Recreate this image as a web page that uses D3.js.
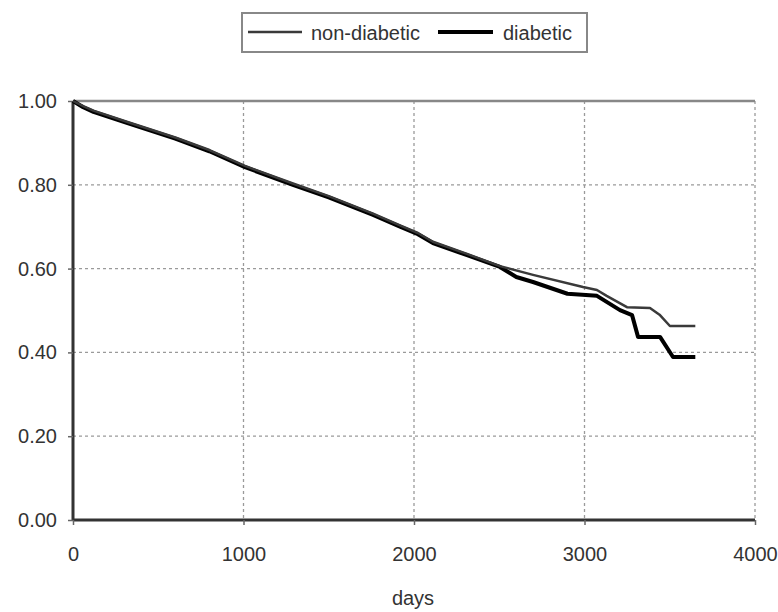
<!DOCTYPE html>
<html>
<head>
<meta charset="utf-8">
<script src="https://cdn.jsdelivr.net/npm/d3@7"></script>
<style>
  html, body { margin: 0; padding: 0; background: #fff; }
  svg { display: block; font-family: "Liberation Sans", Arial, sans-serif; }
</style>
</head>
<body>
<svg id="chart" width="778" height="612"></svg>
<script>
// ---- data ----
const nonDiabeticDays   = [0, 60, 120, 320, 600, 800, 1009, 1290, 1500, 1760, 1918, 2023, 2111, 2311, 2504, 2698, 2991, 3073, 3130, 3249, 3384, 3440, 3501, 3650];
const nonDiabeticValues = [1.0, 0.988, 0.977, 0.950, 0.913, 0.883, 0.845, 0.803, 0.773, 0.731, 0.703, 0.685, 0.664, 0.635, 0.606, 0.585, 0.556, 0.549, 0.535, 0.508, 0.506, 0.49, 0.463, 0.463];
const diabeticDays   = [0, 60, 120, 320, 600, 800, 1009, 1290, 1500, 1760, 1918, 2023, 2111, 2311, 2504, 2600, 2698, 2900, 3073, 3208, 3279, 3314, 3443, 3519, 3650];
const diabeticValues = [1.0, 0.985, 0.974, 0.947, 0.91, 0.88, 0.842, 0.80, 0.77, 0.728, 0.70, 0.682, 0.661, 0.632, 0.604, 0.58, 0.568, 0.54, 0.535, 0.501, 0.489, 0.437, 0.437, 0.389, 0.389];
const xTicks = [0, 1000, 2000, 3000, 4000];
const yTicks = [0, 0.2, 0.4, 0.6, 0.8, 1.0];
const seriesNames = ["non-diabetic", "diabetic"];
const xTitle = "days";

const svg = d3.select("#chart");
const mLeft = 73, mRight = 755, mTop = 101, mBottom = 520;
const FS = 20;
const x = d3.scaleLinear().domain([0, 4000]).range([mLeft, mRight]);
const y = d3.scaleLinear().domain([0, 1]).range([mBottom, mTop]);

// gridlines
const grid = svg.append("g");
grid.selectAll("line.h").data(yTicks.filter(v => v > 0 && v < 1)).join("line")
  .attr("x1", mLeft).attr("x2", mRight).attr("y1", d => y(d)).attr("y2", d => y(d))
  .attr("stroke", "#9a9a9a").attr("stroke-width", 1.3).attr("stroke-dasharray", "3,3");
grid.selectAll("line.v").data(xTicks.filter(v => v > 0)).join("line")
  .attr("y1", mTop).attr("y2", mBottom).attr("x1", d => x(d)).attr("x2", d => x(d))
  .attr("stroke", "#9a9a9a").attr("stroke-width", 1.3).attr("stroke-dasharray", "3,3");

// top border
svg.append("line").attr("x1", mLeft).attr("x2", mRight).attr("y1", mTop).attr("y2", mTop)
  .attr("stroke", "#888").attr("stroke-width", 2.5);

// axes
const yAxis = d3.axisLeft(y).tickValues(yTicks).tickFormat(d3.format(".2f")).tickSize(5).tickPadding(11);
const xAxis = d3.axisBottom(x).tickValues(xTicks).tickFormat(d3.format("d")).tickSize(5).tickPadding(22);

const gy = svg.append("g").attr("transform", `translate(${mLeft},0)`).call(yAxis);
const gx = svg.append("g").attr("transform", `translate(0,${mBottom})`).call(xAxis);
[gx, gy].forEach(g => {
  g.select(".domain").attr("stroke", "#333").attr("stroke-width", 3);
  g.selectAll(".tick line").attr("stroke", "#666").attr("stroke-width", 1.5);
  g.selectAll(".tick text").attr("font-size", FS).attr("fill", "#333")
    .attr("font-family", "'Liberation Sans', Arial, sans-serif");
});
gx.select(".domain").attr("d", `M${mLeft},0H${mRight}`);
gy.select(".domain").attr("d", `M0,${mBottom}V${mTop}`);

svg.append("text").attr("x", (mLeft + mRight) / 2 - 1).attr("y", 605)
  .attr("text-anchor", "middle").attr("font-size", FS).attr("fill", "#333").text(xTitle);

// lines
const line = d3.line().x(d => x(d[0])).y(d => y(d[1]));
const nd = nonDiabeticDays.map((d, i) => [d, nonDiabeticValues[i]]);
const di = diabeticDays.map((d, i) => [d, diabeticValues[i]]);
svg.append("path").datum(di).attr("d", line).attr("fill", "none")
  .attr("stroke", "#000").attr("stroke-width", 4).attr("stroke-linejoin", "round");
svg.append("path").datum(nd).attr("d", line).attr("fill", "none")
  .attr("stroke", "#3a3a3a").attr("stroke-width", 2.5).attr("stroke-linejoin", "round");

// legend
const lg = svg.append("g");
lg.append("rect").attr("x", 242).attr("y", 13).attr("width", 345).attr("height", 39)
  .attr("fill", "#fff").attr("stroke", "#888").attr("stroke-width", 2);
lg.append("line").attr("x1", 248).attr("x2", 302).attr("y1", 32).attr("y2", 32)
  .attr("stroke", "#3a3a3a").attr("stroke-width", 2.5);
lg.append("text").attr("x", 311).attr("y", 40).attr("font-size", FS).attr("fill", "#333").text(seriesNames[0]);
lg.append("line").attr("x1", 438).attr("x2", 493).attr("y1", 32).attr("y2", 32)
  .attr("stroke", "#000").attr("stroke-width", 4);
lg.append("text").attr("x", 503).attr("y", 40).attr("font-size", FS).attr("fill", "#333").text(seriesNames[1]);
</script>
</body>
</html>
